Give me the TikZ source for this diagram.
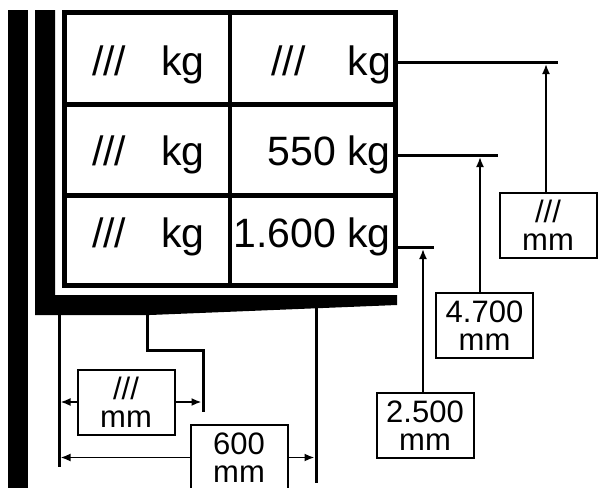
\documentclass[tikz,border=0pt]{standalone}
\usepackage{fontspec}
\setmainfont{Liberation Sans}
\usetikzlibrary{arrows.meta}
\tikzset{
  cell/.style={font=\fontsize{41}{41}\selectfont, inner sep=0pt},
  grid/.style={line width=4.5pt},
  ext/.style={line width=3pt},
  dimbox/.style={draw, line width=2pt, minimum width=97pt, minimum height=65pt,
    inner sep=0pt, align=center, font=\fontsize{31}{28}\selectfont, fill=white},
  dimarrow/.style={line width=1.8pt, -{Latex[length=10pt,width=8pt]}}
}
\begin{document}
\begin{tikzpicture}[x=1pt,y=-1pt]
\clip (0,0) rectangle (598,488);
% wall and floor
\fill (8,10) rectangle (28,488);
\fill (35,10) -- (55,10) -- (55,295) -- (397,295) -- (397,305) -- (150,315) -- (35,315) -- cycle;
% shelf
\node[draw, line width=5pt, minimum width=330.5pt, minimum height=273pt, inner sep=0pt] (tab) at (229.75,149) {};
\draw[grid] (230,12.5) -- (230,285.5);
\draw[grid] (64.5,104.5) -- (395,104.5);
\draw[grid] (64.5,195.5) -- (395,195.5);
\node[cell, anchor=base west] (m11) at (92,75) {///\hspace{35pt}kg};
\node[cell, anchor=base west] (m21) at (92,165) {///\hspace{35pt}kg};
\node[cell, anchor=base west] (m31) at (92,247) {///\hspace{35pt}kg};
\node[cell, anchor=base east] (m12) at (391,75) {///\hspace{42pt}kg};
\node[cell, anchor=base east] (m22) at (391,165) {550 kg};
\node[cell, anchor=base east] (m32) at (391,247) {1.600 kg};
% heights
\coordinate (h1) at (558,62);
\coordinate (h2) at (498,155);
\coordinate (h3) at (434,247);
\draw[ext] (tab.east |- h1) -- (h1);
\draw[ext] (tab.east |- h2) -- (h2);
\draw[ext] (tab.east |- h3) -- (h3);
\coordinate (t1) at (546,64);
\coordinate (t2) at (480,157);
\coordinate (t3) at (423,249);
\node[dimbox] (b1) at (548,225.5) {///\\mm};
\node[dimbox] (b2) at (484.5,325.5) {4.700\\mm};
\node[dimbox] (b3) at (425,425.5) {2.500\\mm};
\draw[dimarrow] (b1.north -| t1) -- (t1);
\draw[dimarrow] (b2.north -| t2) -- (t2);
\draw[dimarrow] (b3.north -| t3) -- (t3);
% depths
\coordinate (dL) at (60.5,0);
\coordinate (dM) at (201.5,0);
\coordinate (dR) at (314.5,0);
\draw[ext] (59,315) -- (59,467);
\draw[ext] (147,315) -- (147,350) -- (203,350) -- (203,412);
\draw[ext] (316,305) -- (316,483);
\node[dimbox] (b4) at (126,402) {///\\mm};
\node[dimbox] (b5) at (239,457.5) {600\\mm};
\draw[dimarrow] (b4.west) -- (b4.west -| dL);
\draw[dimarrow] (b4.east) -- (b4.east -| dM);
\draw[dimarrow] (b5.west) -- (b5.west -| dL);
\draw[dimarrow] (b5.east) -- (b5.east -| dR);
\end{tikzpicture}
\end{document}
